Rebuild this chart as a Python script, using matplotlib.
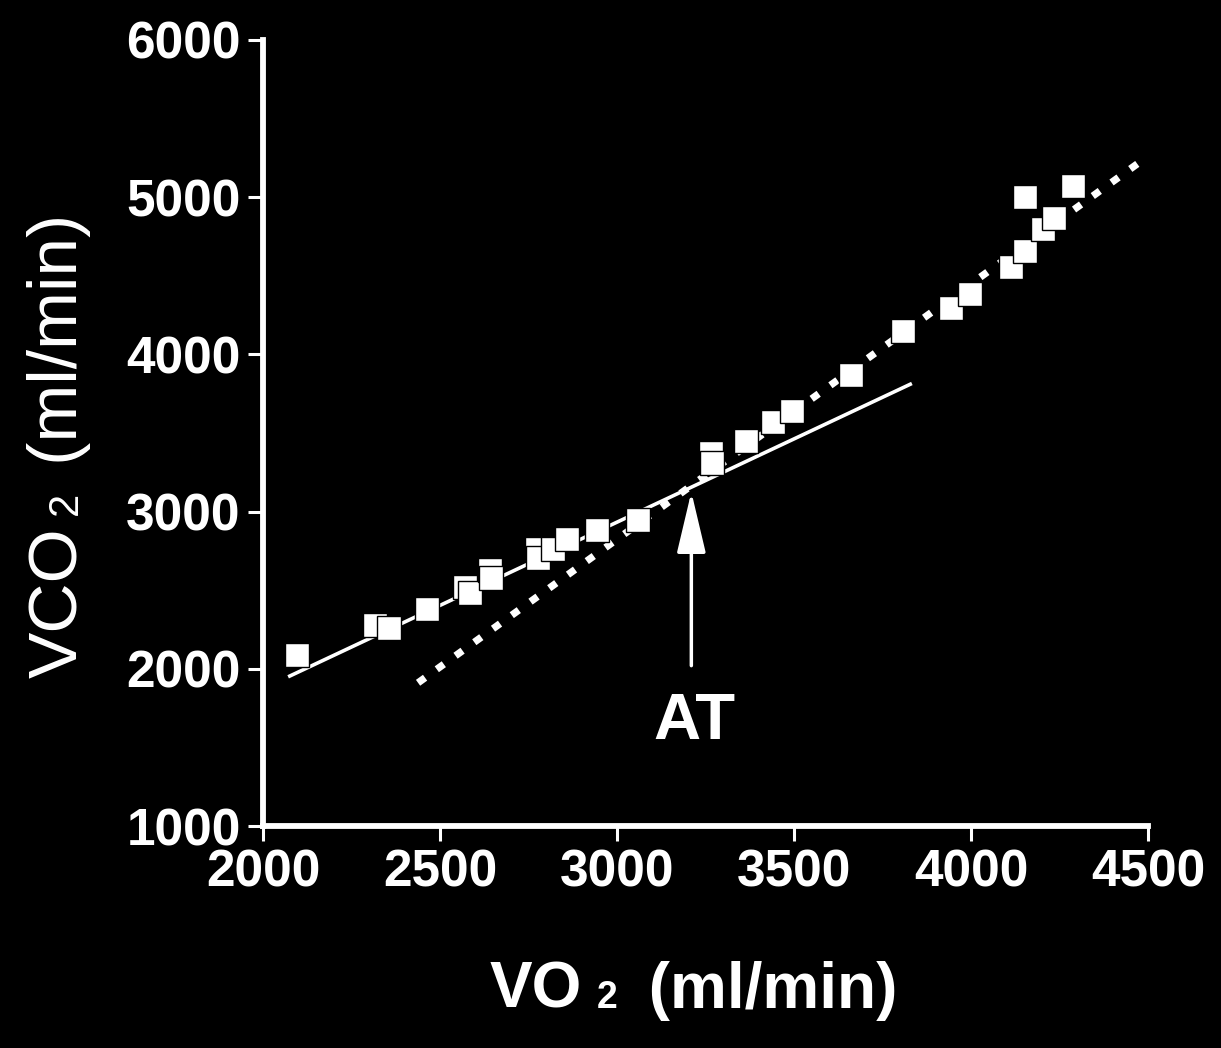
import matplotlib
matplotlib.use("Agg")
import matplotlib.pyplot as plt

plt.rcParams['font.family'] = ['Liberation Sans', 'DejaVu Sans']

# measured points (VO2 vs VCO2, ml/min)
vo2 = [2095, 2315, 2355, 2462, 2570, 2585, 2640, 2645, 2775, 2778, 2820,
       2860, 2943, 3058, 3265, 3268, 3364, 3441, 3494, 3661, 3808, 3943,
       3997, 4113, 4153, 4204, 4235, 4153, 4288]
vco2 = [2090, 2280, 2260, 2382, 2520, 2480, 2630, 2580, 2765, 2705, 2765,
        2828, 2880, 2945, 3370, 3306, 3452, 3573, 3643, 3866, 4150, 4293,
        4382, 4554, 4656, 4796, 4866, 5000, 5070]

# regression lines below / above the threshold
low_fit_x = [2071, 3833]
low_fit_y = [1949, 3815]
high_fit_x = [2438, 4492]
high_fit_y = [1911, 5248]

# anaerobic threshold arrow
at_x = 3210
at_tail = 2020
at_tip = 3125

x_ticks = [2000, 2500, 3000, 3500, 4000, 4500]
y_ticks = [1000, 2000, 3000, 4000, 5000, 6000]

W, H = 1221, 1048
fig = plt.figure(figsize=(W / 100, H / 100), dpi=100, facecolor='black')
ax = fig.add_axes([263 / W, 1 - 826 / H, 885 / W, 786 / H])
ax.set_facecolor('black')

ax.plot(low_fit_x, low_fit_y, color='white', lw=2.6, solid_capstyle='butt', zorder=2)
ax.plot(high_fit_x, high_fit_y, color='white', lw=5.2, linestyle=(0, (1.2, 2.0)),
        dash_capstyle='butt', zorder=2)
ax.plot(vo2, vco2, linestyle='none', marker='s', markersize=17.5,
        markerfacecolor='white', markeredgecolor='black', markeredgewidth=1.0, zorder=3)

ax.annotate('', xy=(at_x, at_tip), xytext=(at_x, at_tail),
            arrowprops=dict(arrowstyle='-|>,head_length=38,head_width=9',
                            mutation_scale=1, lw=2.5, color='white',
                            shrinkA=0, shrinkB=0))
ax.text(at_x + 10, 1555, 'AT', color='white', fontsize=47, fontweight='bold',
        ha='center', va='baseline')

ax.set_xlim(2000, 4500)
ax.set_ylim(1000, 6000)
ax.set_xticks(x_ticks)
ax.set_yticks(y_ticks)
ax.set_xticklabels([str(v) for v in x_ticks], fontweight='bold')
ax.set_yticklabels([str(v) for v in y_ticks], fontweight='bold')
ax.tick_params(colors='white', labelsize=37, length=11, width=2.2, direction='out', pad=5)
for side in ['top', 'right']:
    ax.spines[side].set_visible(False)
for side in ['left', 'bottom']:
    ax.spines[side].set_color('white')
    ax.spines[side].set_linewidth(4.2)
    ax.spines[side].set_capstyle('projecting')

# axis titles built from pieces so the "2" sits small on the baseline
fig.canvas.draw()
r = fig.canvas.get_renderer()

# x label
x0, base = 490, H - 1008
parts = [('VO', 46, 0), ('2', 27, 14), (' (ml/min)', 46, 14)]
cur = x0
for s, size, gap in parts:
    cur += gap
    t = fig.text(cur / W, base / H, s, color='white', fontsize=size,
                 fontweight='bold', ha='left', va='baseline')
    cur = t.get_window_extent(r).x1

# y label (rotated)
xb, y0 = 77, H - 678
parts = [('VCO', 50, 0), ('2', 30, 12), (' (ml/min)', 50, 8)]
cur = y0
for s, size, gap in parts:
    cur += gap
    t = fig.text(xb / W, cur / H, s, color='white', fontsize=size,
                 rotation=90, rotation_mode='anchor', ha='left', va='baseline')
    cur = t.get_window_extent(r).y1

fig.savefig('out.png', dpi=100, facecolor='black')
